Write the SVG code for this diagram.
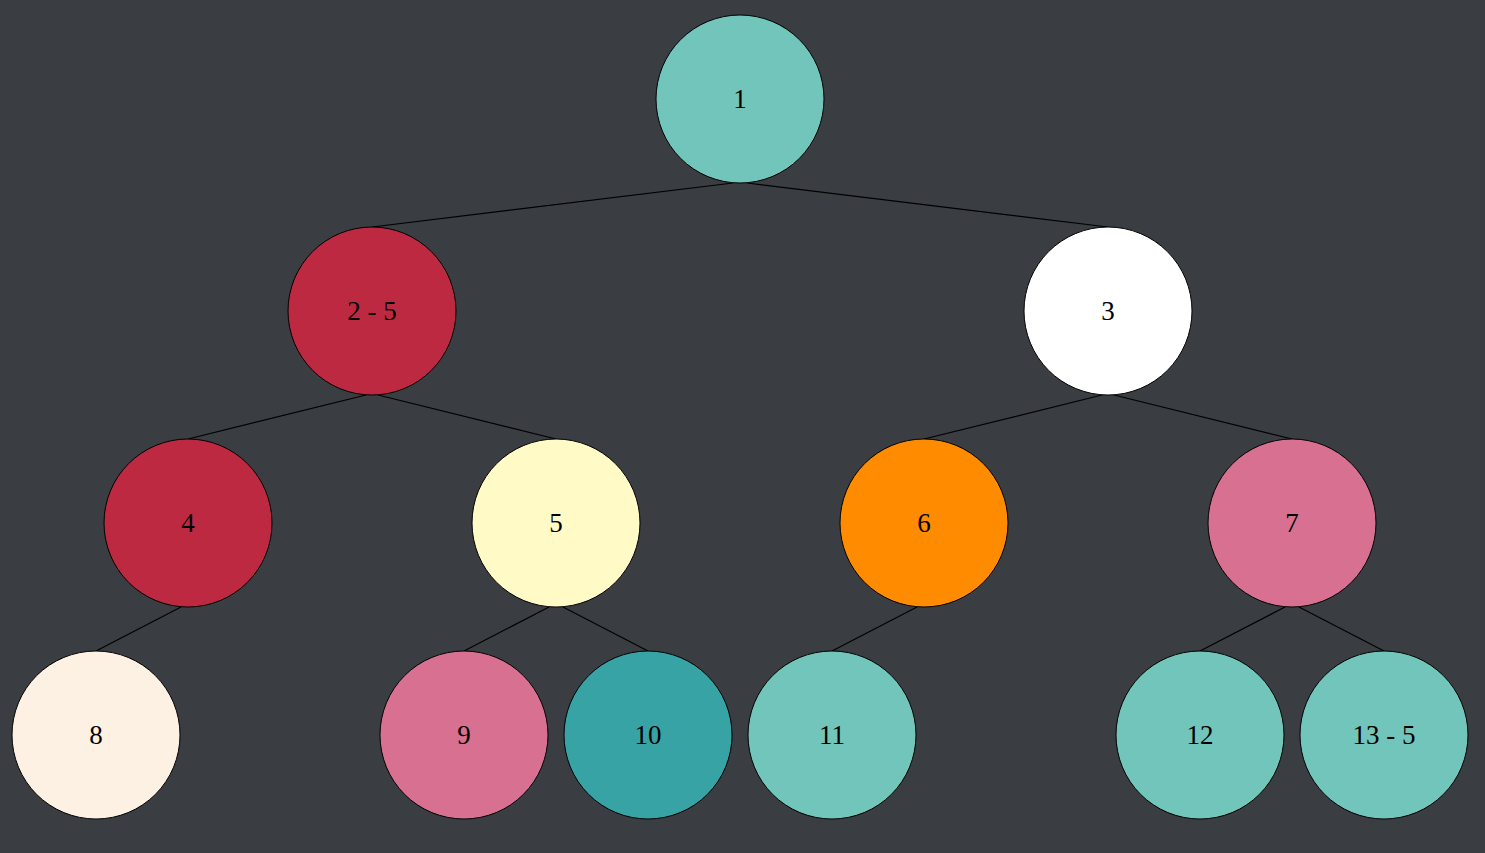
<svg xmlns="http://www.w3.org/2000/svg" width="1485" height="853" viewBox="0 0 1485 853">
<style>
.n circle{stroke:#000;stroke-width:1}
.n text{font-family:"Liberation Serif",serif;font-size:27px;fill:#000;text-anchor:middle;dominant-baseline:central}
#edges line{stroke:#000;stroke-width:1.2}
</style>
<rect width="1485" height="853" fill="#3a3e42"/>
<g id="edges">
<line x1="733" y1="183" x2="372" y2="227"/>
<line x1="747" y1="183" x2="1108" y2="227"/>
<line x1="366" y1="395" x2="188" y2="439"/>
<line x1="378" y1="395" x2="556" y2="439"/>
<line x1="1102" y1="395" x2="924" y2="439"/>
<line x1="1114" y1="395" x2="1292" y2="439"/>
<line x1="181" y1="607" x2="96" y2="651"/>
<line x1="549" y1="607" x2="464" y2="651"/>
<line x1="563" y1="607" x2="648" y2="651"/>
<line x1="917" y1="607" x2="832" y2="651"/>
<line x1="1285" y1="607" x2="1200" y2="651"/>
<line x1="1299" y1="607" x2="1384" y2="651"/>
</g>
<g id="n1" class="n"><circle cx="740" cy="99" r="84" fill="#72c5bb"/><text x="740" y="99">1</text></g>
<g id="n2" class="n"><circle cx="372" cy="311" r="84" fill="#be2942"/><text x="372" y="311">2 - 5</text></g>
<g id="n3" class="n"><circle cx="1108" cy="311" r="84" fill="#ffffff"/><text x="1108" y="311">3</text></g>
<g id="n4" class="n"><circle cx="188" cy="523" r="84" fill="#be2942"/><text x="188" y="523">4</text></g>
<g id="n5" class="n"><circle cx="556" cy="523" r="84" fill="#fffac6"/><text x="556" y="523">5</text></g>
<g id="n6" class="n"><circle cx="924" cy="523" r="84" fill="#ff8c00"/><text x="924" y="523">6</text></g>
<g id="n7" class="n"><circle cx="1292" cy="523" r="84" fill="#d87091"/><text x="1292" y="523">7</text></g>
<g id="n8" class="n"><circle cx="96" cy="735" r="84" fill="#fdf1e3"/><text x="96" y="735">8</text></g>
<g id="n9" class="n"><circle cx="464" cy="735" r="84" fill="#d87091"/><text x="464" y="735">9</text></g>
<g id="n10" class="n"><circle cx="648" cy="735" r="84" fill="#37a3a5"/><text x="648" y="735">10</text></g>
<g id="n11" class="n"><circle cx="832" cy="735" r="84" fill="#72c5bb"/><text x="832" y="735">11</text></g>
<g id="n12" class="n"><circle cx="1200" cy="735" r="84" fill="#72c5bb"/><text x="1200" y="735">12</text></g>
<g id="n13" class="n"><circle cx="1384" cy="735" r="84" fill="#72c5bb"/><text x="1384" y="735">13 - 5</text></g>
</svg>
